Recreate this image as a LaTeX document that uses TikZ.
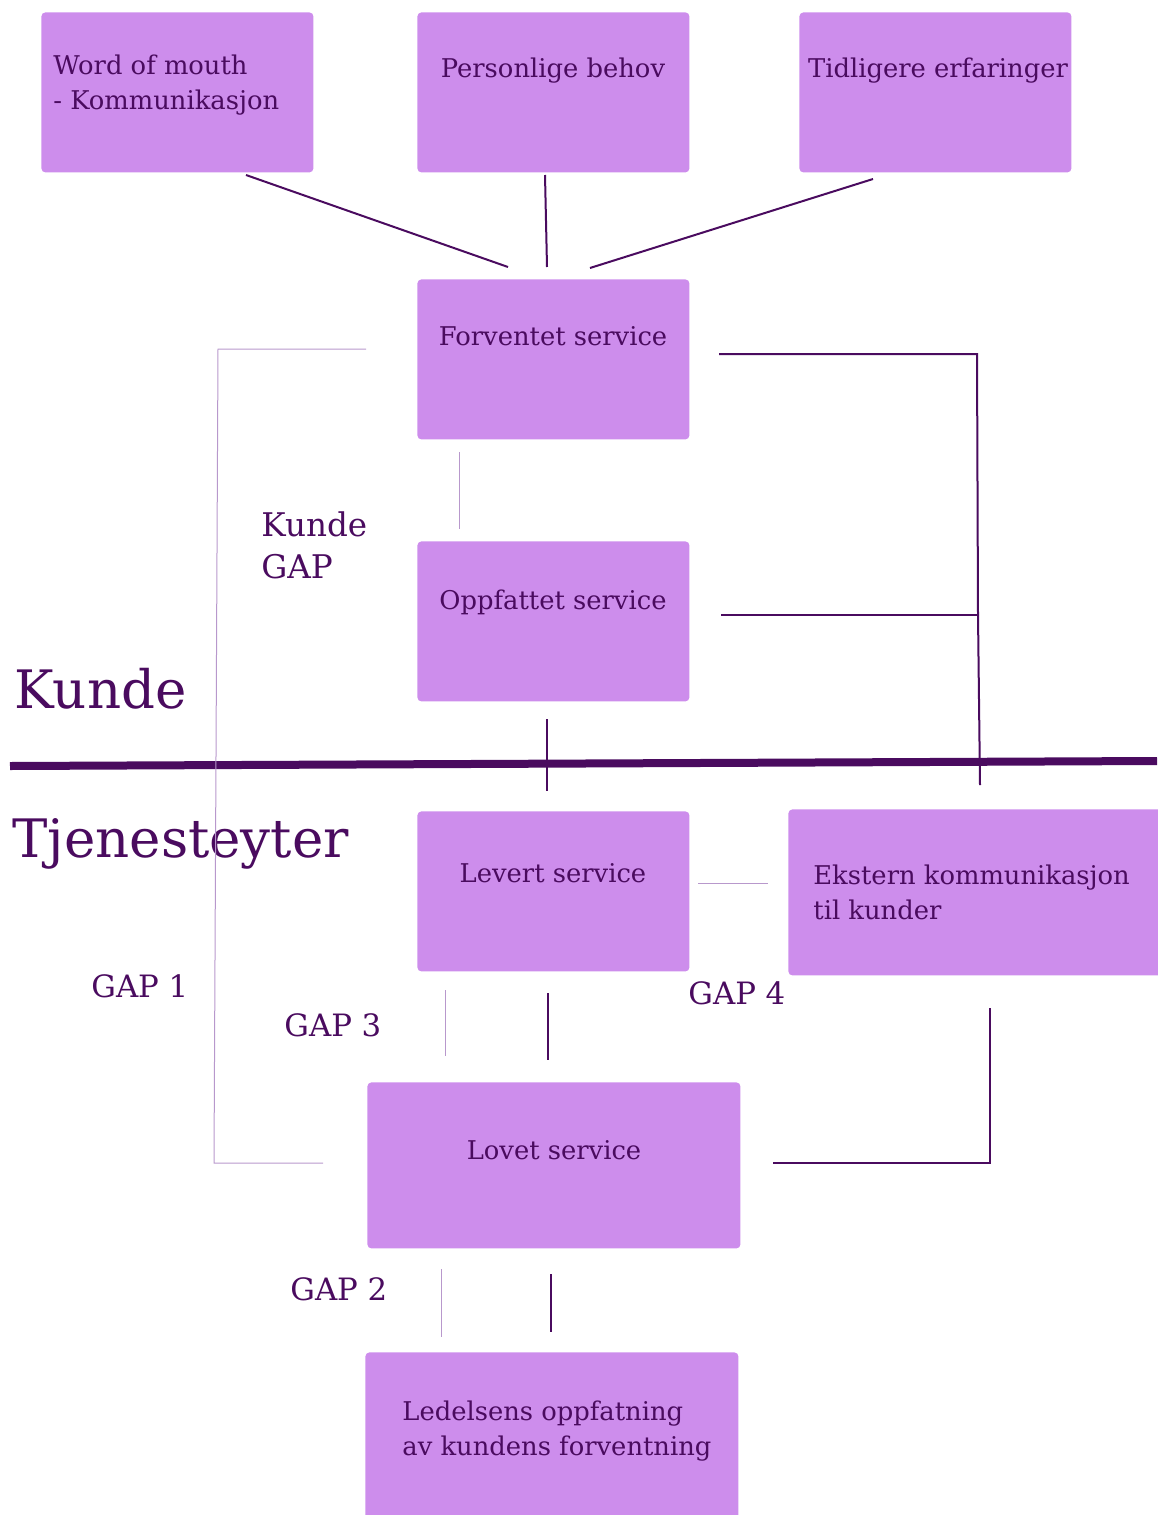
\documentclass[tikz,border=0pt]{standalone}
\usepackage{fontspec}
\setmainfont{DejaVu Serif}
\definecolor{boxfill}{HTML}{CD8DEC}
\definecolor{ink}{HTML}{4A0B5F}
\definecolor{softline}{HTML}{B898CC}
\begin{document}
\begin{tikzpicture}[x=0.5pt,y=-0.5pt,
  box/.style={draw=none,fill=boxfill,rounded corners=2pt,anchor=north west,inner sep=0pt},
  txt/.style={text=ink,inner sep=0pt,font=\fontsize{12.9pt}{16pt}\selectfont},
  gaptxt/.style={text=ink,inner sep=0pt,font=\fontsize{15.4pt}{18pt}\selectfont,anchor=base west},
  kgaptxt/.style={gaptxt,font=\fontsize{16.3pt}{19pt}\selectfont},
  bigtxt/.style={text=ink,inner sep=0pt,font=\fontsize{26.5pt}{30pt}\selectfont,anchor=base west},
  link/.style={draw=ink,line width=1pt},
  faint/.style={draw=softline,line width=0.5pt}]
\useasboundingbox (0,0) rectangle (1157,1515);

% boxes
\node[box,minimum width=136pt,minimum height=80pt] (wom) at (41,12) {};
\node[box,minimum width=136pt,minimum height=80pt] (need) at (417,12) {};
\node[box,minimum width=136pt,minimum height=80pt] (past) at (799,12) {};
\node[box,minimum width=136pt,minimum height=80pt] (expect) at (417,279) {};
\node[box,minimum width=136pt,minimum height=80pt] (perceive) at (417,541) {};
\node[box,minimum width=136pt,minimum height=80pt] (deliver) at (417,811) {};
\node[box,minimum width=190pt,minimum height=83pt] (extern) at (788,809) {};
\node[box,minimum width=186.5pt,minimum height=83pt] (promise) at (367,1082) {};
\node[box,minimum width=186.5pt,minimum height=85pt] (mgmt) at (365,1352) {};

% box texts
\node[txt,anchor=base west] (womA) at (53,74) {Word of mouth};
\node[txt,anchor=base west] (womB) at (53,109) {- Kommunikasjon};
\node[txt,anchor=base] (needT) at (553,77) {Personlige behov};
\node[txt,anchor=base] (pastT) at (938,77) {Tidligere erfaringer};
\node[txt,anchor=base] (expectT) at (553,345) {Forventet service};
\node[txt,anchor=base] (perceiveT) at (553,609) {Oppfattet service};
\node[txt,anchor=base] (deliverT) at (553,882) {Levert service};
\node[txt,anchor=base west] (externA) at (813,884) {Ekstern kommunikasjon};
\node[txt,anchor=base west] (externB) at (813,919) {til kunder};
\node[txt,anchor=base] (promiseT) at (554,1159) {Lovet service};
\node[txt,anchor=base west] (mgmtA) at (402,1420) {Ledelsens oppfatning};
\node[txt,anchor=base west] (mgmtB) at (402,1455) {av kundens forventning};

% side labels
\node[kgaptxt] (kgapA) at (261,536) {Kunde};
\node[kgaptxt] (kgapB) at (261,578) {GAP};
\node[gaptxt] (gap1) at (91,997) {GAP 1};
\node[gaptxt] (gap3) at (284,1036) {GAP 3};
\node[gaptxt] (gap4) at (688,1004) {GAP 4};
\node[gaptxt] (gap2) at (290,1300) {GAP 2};
\node[bigtxt] (kunde) at (14,708) {Kunde};
\node[bigtxt] (tjen) at (12,857) {Tjenesteyter};

% divider between customer and provider
\coordinate (divL) at (10,766);
\coordinate (divR) at (1157,761);
\draw[ink,line width=4pt] (divL) -- (divR);

% influences on expected service
\coordinate (womEnd) at (246,175);
\coordinate (needEnd) at (545,175);
\coordinate (pastEnd) at (873,179);
\coordinate (inA) at (508,267);
\coordinate (inB) at (547,267);
\coordinate (inC) at (590,268);
\draw[link] (womEnd) -- (inA);
\draw[link] (needEnd) -- (inB);
\draw[link] (pastEnd) -- (inC);

% customer gap marker
\coordinate (cgT) at (459,452);
\coordinate (cgB) at (459,529);
\draw[faint] (cgT) -- (cgB);

% right bracket from expected / perceived service down across the divider
\coordinate (eR) at (719,354);
\coordinate (eC) at (977,354);
\coordinate (pR) at (721,615);
\coordinate (pC) at (978,615);
\coordinate (bEnd) at (980,785);
\draw[link] (eR) -- (eC) -- (pC) -- (bEnd);
\draw[link] (pR) -- (pC);

% perceived to delivered across the divider
\coordinate (pdT) at (547,719);
\coordinate (pdB) at (547,791);
\draw[link] (pdT) -- (pdB);

% GAP 1 bracket
\coordinate (g1a) at (366,349);
\coordinate (g1b) at (218,349);
\coordinate (g1c) at (214,1163);
\coordinate (g1d) at (323,1163);
\draw[faint] (g1a) -- (g1b) -- (g1c) -- (g1d);

% GAP 4 marker
\coordinate (g4a) at (698,883);
\coordinate (g4b) at (768,883);
\draw[faint] (g4a) -- (g4b);

% GAP 3 markers
\coordinate (g3a) at (445,990);
\coordinate (g3b) at (445,1056);
\draw[faint] (g3a) -- (g3b);
\coordinate (dlT) at (548,993);
\coordinate (dlB) at (548,1060);
\draw[link] (dlT) -- (dlB);

% promised service to external communication
\coordinate (prR) at (773,1163);
\coordinate (prC) at (990,1163);
\coordinate (prT) at (990,1008);
\draw[link] (prR) -- (prC) -- (prT);

% GAP 2 markers
\coordinate (g2a) at (441,1269);
\coordinate (g2b) at (441,1337);
\draw[faint] (g2a) -- (g2b);
\coordinate (pmT) at (551,1274);
\coordinate (pmB) at (551,1332);
\draw[link] (pmT) -- (pmB);
\end{tikzpicture}
\end{document}
